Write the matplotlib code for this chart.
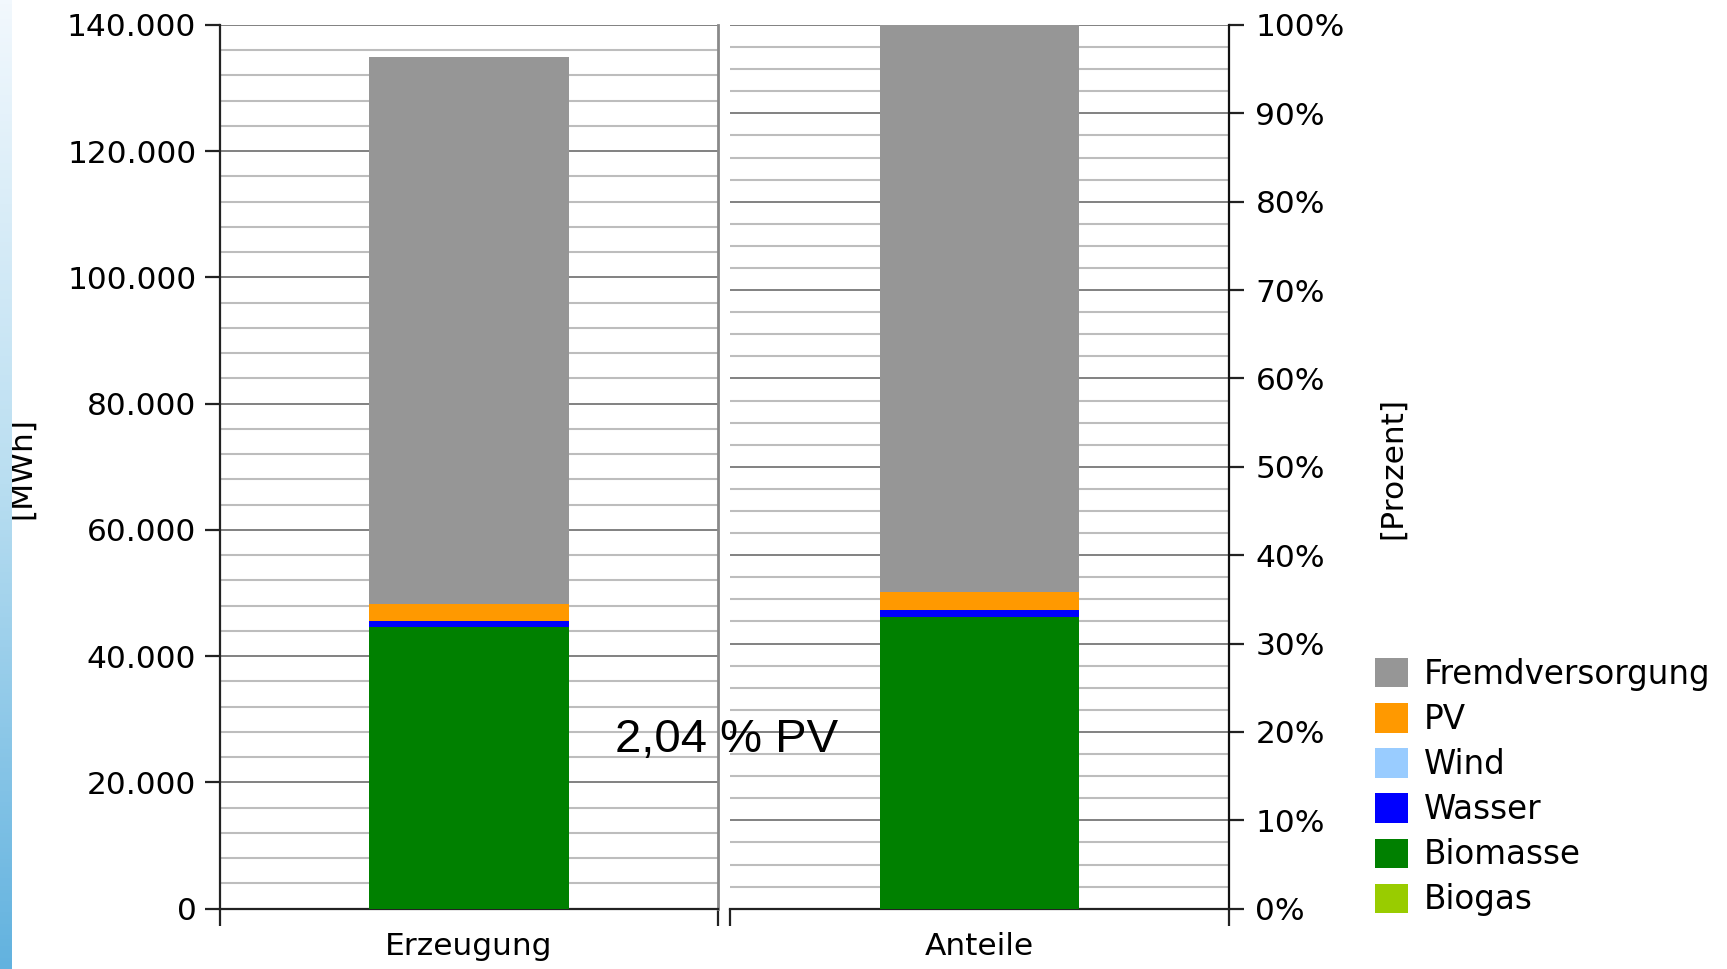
import numpy as np
import matplotlib.pyplot as plt
from matplotlib.colors import LinearSegmentedColormap
from matplotlib.patches import Patch

# energy sources, stacked bottom to top
sources = ['Biogas', 'Biomasse', 'Wasser', 'Wind', 'PV', 'Fremdversorgung']
colors = ['#99cc00', '#008000', '#0000ff', '#99ccff', '#ff9900', '#969696']
mwh = [0, 44600, 950, 0, 2750, 86600]

categories = ['Erzeugung', 'Anteile']
mwh_ticks = [0, 20000, 40000, 60000, 80000, 100000, 120000, 140000]
mwh_tick_labels = ['0', '20.000', '40.000', '60.000', '80.000', '100.000', '120.000', '140.000']
pct_ticks = [0, 10, 20, 30, 40, 50, 60, 70, 80, 90, 100]
pct_tick_labels = [f'{p}%' for p in pct_ticks]
note = '2,04 % PV'

plt.rcParams['font.family'] = 'DejaVu Sans'
fs = 22.5

W, H = 1727, 969
fig = plt.figure(figsize=(W / 100, H / 100), dpi=100)

def rect(x0, x1, y0, y1):
    return [x0 / W, 1 - y1 / H, (x1 - x0) / W, (y1 - y0) / H]

ax1 = fig.add_axes(rect(220, 718, 25, 908.7))
ax2 = fig.add_axes(rect(730, 1229, 25, 908.7))

total = sum(mwh)
pct = [v / total * 100 for v in mwh]

for ax, vals in [(ax1, mwh), (ax2, pct)]:
    bottom = 0
    for v, c in zip(vals, colors):
        ax.bar(0, v, width=0.4, bottom=bottom, color=c, edgecolor='none', zorder=3)
        bottom += v
    ax.set_xlim(-0.5, 0.5)
    ax.set_xticks([-0.5, 0.5])
    ax.set_xticklabels(['', ''])
    ax.tick_params(axis='x', direction='out', length=12, width=1.6, color='#222222')
    ax.grid(False)
    ax.spines['top'].set_visible(False)
    ax.spines['bottom'].set_color('#222222')
    ax.spines['bottom'].set_linewidth(1.6)

# left panel: MWh
ax1.set_ylim(0, 140000)
ax1.set_yticks(mwh_ticks)
ax1.set_yticklabels(mwh_tick_labels, fontsize=fs)
ax1.set_yticks(np.arange(0, 140001, 4000), minor=True)
ax1.tick_params(axis='y', which='major', direction='out', length=11, width=1.6, color='#222222', pad=6)
ax1.tick_params(axis='y', which='minor', length=0)
ax1.grid(True, axis='y', which='major', color='#777777', lw=1.3, zorder=1)
ax1.grid(True, axis='y', which='minor', color='#bdbdbd', lw=1.5, zorder=1)
ax1.spines['left'].set_color('#222222')
ax1.spines['left'].set_linewidth(1.6)
ax1.spines['right'].set_color('#8a8a8a')
ax1.spines['right'].set_linewidth(2)
ax1.set_xlabel(categories[0], fontsize=fs, labelpad=1)

# right panel: percent
ax2.set_ylim(0, 100)
ax2.yaxis.tick_right()
ax2.set_yticks(pct_ticks)
ax2.set_yticklabels(pct_tick_labels, fontsize=fs)
ax2.set_yticks(np.arange(0, 100.1, 2.5), minor=True)
ax2.tick_params(axis='y', which='major', direction='out', length=11, width=1.6, color='#222222', pad=8)
ax2.tick_params(axis='y', which='minor', length=0)
ax2.grid(True, axis='y', which='major', color='#777777', lw=1.3, zorder=1)
ax2.grid(True, axis='y', which='minor', color='#bdbdbd', lw=1.5, zorder=1)
ax2.spines['left'].set_visible(False)
ax2.spines['right'].set_color('#111111')
ax2.spines['right'].set_linewidth(1.6)
ax2.set_xlabel(categories[1], fontsize=fs, labelpad=1)

# axis titles
fig.text(22 / W, 1 - 468 / H, '[MWh]', rotation=90, ha='center', va='center', fontsize=fs)
fig.text(1393 / W, 1 - 468 / H, '[Prozent]', rotation=90, ha='center', va='center', fontsize=fs)

# PV share note
fig.text(727 / W, 1 - 752 / H, note, ha='center', va='baseline', fontsize=34,
         family='Liberation Sans', zorder=10)

# legend (top to bottom = reverse stack order)
handles = [Patch(facecolor=c, edgecolor='none') for c in colors[::-1]]
fig.legend(handles, sources[::-1], loc='upper left', bbox_to_anchor=(1375 / W, 1 - 658 / H),
           frameon=False, fontsize=23.5, handlelength=1.0, handleheight=1.0,
           handletextpad=0.5, labelspacing=0.37, borderpad=0, borderaxespad=0)

# blue gradient strip on the left edge
strip = fig.add_axes([0, 0, 12 / W, 1], zorder=5)
cmap = LinearSegmentedColormap.from_list('strip', ['#f2f8fd', '#b9def1', '#62b2df'])
strip.imshow(np.linspace(0, 1, 256).reshape(-1, 1), aspect='auto', cmap=cmap)
strip.axis('off')

fig.savefig('out.png', dpi=100)
